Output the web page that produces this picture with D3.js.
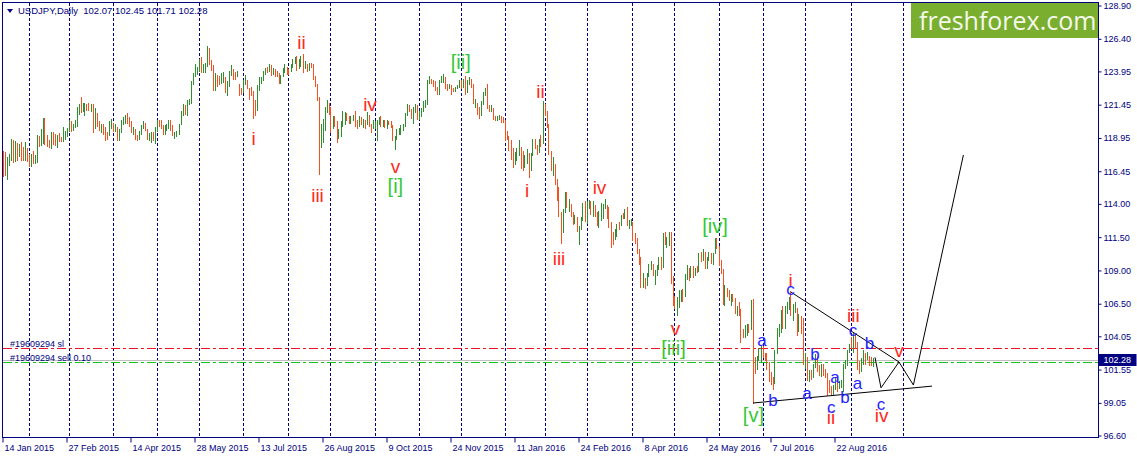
<!DOCTYPE html>
<html>
<head>
<meta charset="utf-8">
<script src="https://cdn.jsdelivr.net/npm/d3@7"></script>
<style>
  html, body { margin: 0; padding: 0; background: #fff; }
  svg { display: block; font-family: "Liberation Sans", Arial, sans-serif; }
</style>
</head>
<body>
<div id="chart"></div>
<script>
// USDJPY daily bars, Jan 2015 - Sep 2016, with Elliott wave marks and a triangle forecast.
// Each bar is [high, low, close]; the open is the previous close.

const symbol = 'USDJPY';
const period = 'Daily';
const firstOpen = 117.60;

const jan15 = [[117.97,116.00,116.40],[117.87,116.10,116.20],[117.50,115.80,117.40],[117.74,116.84,117.60],[118.87,117.20,118.70],[118.80,117.10,118.40],[118.72,117.17,118.60],[118.60,117.24,117.70],[118.50,117.54,118.30],[118.64,117.22,117.90],[118.24,117.22,117.50],[118.67,117.22,118.40],[118.19,117.17,117.50]];
const feb15 = [[117.74,116.79,117.40],[117.74,116.79,117.50],[117.97,116.97,117.20],[117.67,116.97,117.50],[119.17,117.09,119.00],[119.10,118.24,118.60],[119.62,118.34,119.40],[120.45,118.49,120.20],[120.42,118.42,119.30],[119.17,118.29,118.80],[118.80,118.17,118.50],[119.40,118.12,119.30],[119.42,118.42,119.00],[119.25,118.34,118.90],[119.17,118.19,119.10],[119.35,118.67,118.80],[119.05,118.62,118.70],[119.80,118.67,119.30],[119.45,118.80,119.45],[119.67,119.05,119.60]];
const mar15 = [[120.30,119.40,120.20],[120.20,119.40,119.70],[120.00,119.50,119.80],[120.30,119.70,120.10],[121.30,119.80,120.80],[121.50,120.70,121.10],[122.03,120.80,121.05],[121.60,120.90,121.40],[121.60,120.60,121.45],[121.50,121.00,121.40],[121.60,121.00,121.30],[121.50,120.90,121.40],[121.50,119.30,119.80],[121.20,119.60,120.70],[120.80,119.80,120.00],[120.20,119.50,119.70],[120.00,119.30,119.75],[120.00,119.20,119.60],[119.80,118.70,119.30],[119.40,118.80,119.20],[120.20,119.10,120.00],[120.40,119.60,120.10]];
const apr15 = [[120.10,119.40,119.70],[120.00,119.40,119.80],[119.80,118.70,118.90],[119.60,118.70,119.40],[120.30,119.30,120.20],[120.50,119.90,120.25],[120.70,120.00,120.60],[120.80,120.00,120.20],[120.50,119.80,120.10],[120.20,119.30,119.50],[119.80,119.20,119.60],[119.60,118.80,118.90],[119.20,118.70,118.85],[119.50,118.80,119.30],[119.90,119.20,119.70],[120.20,119.60,120.20],[120.10,119.50,119.60],[119.60,118.80,118.90],[119.30,118.70,119.00],[119.40,118.60,119.05],[119.40,118.70,118.90],[119.80,118.50,119.40]];
const may15 = [[120.30,119.40,120.20],[120.30,119.80,120.10],[120.30,119.60,119.80],[119.90,119.20,119.40],[119.90,119.20,119.80],[120.00,119.50,119.85],[120.30,119.60,120.10],[120.30,119.50,119.80],[119.90,119.10,119.20],[119.40,118.90,119.30],[119.50,119.00,119.40],[120.00,119.20,120.00],[121.00,119.90,120.90],[121.50,120.60,121.30],[121.40,120.70,121.00],[121.80,120.60,121.50],[121.90,121.40,121.80],[123.20,121.50,123.00],[123.80,122.90,123.60],[124.50,123.50,124.10],[124.30,123.70,124.10]];
const jun15 = [[124.90,123.90,124.80],[125.00,123.80,124.00],[124.50,123.80,124.30],[124.60,123.80,124.50],[125.86,124.30,125.60],[125.70,124.40,124.60],[124.80,124.00,124.30],[124.40,122.45,122.50],[123.80,122.50,123.40],[123.70,122.80,123.35],[123.60,122.90,123.30],[123.80,123.00,123.40],[123.90,123.10,123.45],[123.50,122.30,122.70],[123.20,122.10,122.75],[124.00,122.80,123.90],[124.40,123.60,123.95],[124.10,123.30,123.75],[123.90,123.30,123.70],[124.00,123.50,123.80],[123.00,122.10,122.50],[122.70,122.20,122.40]];
const jul15 = [[123.30,122.30,123.10],[123.70,122.90,123.20],[123.30,122.60,122.80],[122.70,121.80,122.60],[122.80,122.10,122.50],[122.50,120.41,121.60],[121.80,120.60,121.00],[122.90,121.00,122.80],[123.50,122.50,123.30],[123.50,123.00,123.40],[124.00,123.20,123.90],[124.20,123.70,124.10],[124.30,123.80,124.00],[124.50,123.90,124.30],[124.40,123.60,123.90],[124.20,123.70,124.00],[124.10,123.50,123.80],[124.00,123.50,123.75],[123.80,123.00,123.20],[123.70,123.00,123.60],[124.20,123.50,123.90],[124.50,123.80,124.10],[124.30,123.70,124.00]];
const aug15 = [[124.10,123.70,123.90],[124.50,123.90,124.40],[124.90,124.20,124.80],[125.00,124.50,124.85],[125.10,124.00,124.20],[124.90,124.10,124.60],[125.10,124.30,125.00],[125.28,123.80,124.40],[124.70,124.10,124.45],[124.50,123.90,124.30],[124.60,124.00,124.40],[124.60,124.20,124.35],[124.50,123.30,123.40],[123.60,122.80,122.90],[123.00,121.70,122.00],[122.00,116.15,118.40],[120.00,118.20,118.80],[120.40,118.60,119.90],[121.30,119.50,121.00],[121.80,120.80,121.70],[121.60,120.70,121.20]];
const sep15 = [[121.30,119.30,119.80],[120.60,119.60,120.20],[120.60,119.80,120.00],[120.20,118.60,119.00],[119.60,118.90,119.20],[120.20,119.00,120.00],[121.00,119.80,120.50],[120.90,119.90,120.60],[120.80,120.20,120.55],[120.60,120.00,120.20],[120.60,120.00,120.40],[120.70,120.20,120.60],[121.00,119.80,120.00],[120.30,119.60,119.90],[120.60,119.80,120.50],[120.50,119.90,120.10],[120.40,119.70,120.20],[120.30,119.60,120.00],[120.90,119.90,120.60],[120.70,119.80,119.90],[120.00,119.30,119.80],[120.30,119.60,119.90]];
const oct15 = [[120.20,119.60,120.00],[120.30,118.70,120.20],[120.50,119.90,120.40],[120.60,119.80,120.10],[120.30,119.80,120.20],[120.30,119.70,119.90],[120.30,119.60,120.20],[120.20,119.90,120.10],[120.20,119.70,119.80],[119.90,118.70,118.80],[119.10,118.07,118.90],[119.60,118.80,119.40],[119.70,119.20,119.45],[119.90,119.20,119.80],[120.00,119.50,119.90],[120.80,119.80,120.60],[121.50,120.60,121.45],[121.40,120.90,121.10],[121.10,120.40,120.60],[121.30,120.00,121.10],[121.50,120.80,121.15],[121.40,120.30,120.60]];
const nov15 = [[121.00,120.30,120.70],[121.20,120.50,121.00],[121.70,120.90,121.60],[121.80,121.20,121.70],[123.30,121.40,123.20],[123.60,123.00,123.25],[123.40,123.00,123.20],[123.30,122.80,123.00],[123.20,122.50,122.60],[122.80,122.20,122.55],[123.30,122.20,123.20],[123.60,123.10,123.40],[123.75,123.10,123.45],[123.50,122.60,122.90],[123.00,122.50,122.80],[123.00,122.60,122.85],[122.90,122.20,122.50],[122.70,122.40,122.45],[122.80,122.40,122.70],[122.90,122.60,122.80],[123.30,122.70,123.20]];
const dec15 = [[123.30,122.60,122.90],[123.40,122.70,123.20],[123.60,122.20,122.60],[123.30,122.30,123.10],[123.50,122.90,123.30],[123.40,122.70,123.00],[123.00,121.50,121.60],[121.90,121.20,121.65],[121.60,120.70,120.90],[121.30,120.40,120.60],[121.70,120.60,121.60],[122.40,121.40,122.20],[122.70,122.10,122.60],[123.00,121.10,121.20],[121.40,120.90,121.10],[121.40,120.90,121.15],[121.20,120.30,120.40],[120.60,120.20,120.30],[120.60,120.20,120.40],[120.70,120.30,120.50],[120.60,120.10,120.30],[120.50,120.10,120.20]];
const jan16 = [[120.30,118.70,119.30],[119.50,118.80,119.00],[119.10,118.00,118.50],[118.80,117.30,117.70],[118.20,116.70,117.20],[117.90,116.90,117.70],[118.20,117.20,117.75],[118.80,117.60,118.10],[118.30,116.60,118.00],[118.00,116.50,117.00],[117.70,116.70,117.30],[118.10,117.00,117.70],[117.80,115.97,116.90],[117.80,116.50,117.60],[118.90,117.60,118.80],[118.90,118.10,118.30],[118.40,117.70,118.20],[118.90,117.80,118.70],[119.20,118.30,118.60],[121.69,118.50,121.10]];
const feb16 = [[121.50,120.60,121.00],[121.00,119.70,119.90],[120.00,117.70,117.90],[118.00,116.50,116.80],[117.50,116.10,116.85],[117.00,115.40,115.60],[115.90,114.20,114.90],[115.30,113.00,113.30],[113.40,110.98,112.40],[113.60,111.80,113.20],[114.90,113.30,114.60],[114.90,113.70,114.00],[114.40,113.40,114.05],[114.00,113.00,113.20],[113.40,112.40,112.60],[113.20,112.50,112.90],[113.00,111.90,112.10],[112.30,110.90,112.20],[113.00,112.00,112.90],[114.10,112.70,114.00],[114.20,112.60,112.70]];
const mar16 = [[114.20,112.50,114.00],[114.30,113.60,114.05],[114.20,113.20,113.70],[114.20,113.00,113.80],[113.90,113.00,113.40],[113.40,112.30,112.60],[113.50,112.20,113.30],[114.10,112.70,113.35],[114.00,112.90,113.80],[114.40,113.60,113.85],[113.90,112.90,113.10],[113.80,112.20,112.40],[112.60,110.67,111.60],[111.90,110.90,111.55],[112.10,111.30,111.90],[112.50,111.50,112.40],[112.60,112.00,112.35],[113.20,112.30,113.10],[113.30,112.90,113.00],[113.60,112.90,113.40],[113.80,112.30,112.40],[112.80,112.10,112.45],[112.90,112.30,112.60]];
const apr16 = [[112.60,111.20,111.70],[111.80,111.00,111.30],[111.40,110.20,110.40],[110.60,109.40,109.80],[110.00,107.70,108.10],[108.80,107.70,108.15],[108.40,107.63,108.00],[108.80,107.80,108.60],[109.50,108.50,109.30],[109.70,109.00,109.40],[109.50,108.60,108.80],[109.00,107.90,108.85],[109.40,108.60,109.30],[110.00,109.00,109.80],[110.00,109.00,109.40],[111.80,109.20,111.75],[111.90,110.90,111.10],[111.50,110.70,111.40],[111.90,110.80,111.45],[111.88,108.00,108.40],[108.60,106.30,106.40]];
const may16 = [[107.10,106.10,106.35],[107.00,105.55,106.50],[107.50,106.20,107.10],[107.50,106.60,107.20],[107.60,106.60,107.10],[108.70,107.00,108.60],[109.40,108.30,109.20],[109.20,108.20,108.40],[109.30,108.40,109.00],[109.30,108.40,108.60],[109.20,108.60,109.10],[109.30,108.80,109.05],[110.30,108.90,110.20],[110.40,109.60,110.00],[110.60,109.70,110.20],[110.40,109.10,109.30],[110.00,109.10,109.80],[110.40,109.70,110.20],[110.30,109.50,109.80],[110.30,109.40,110.20],[111.40,110.20,111.30],[111.45,110.60,110.70]];
const jun16 = [[110.80,109.30,109.50],[109.80,108.70,109.00],[109.10,106.40,106.50],[107.90,106.30,107.60],[107.70,107.00,107.40],[107.50,106.70,106.90],[107.20,106.30,107.00],[107.20,106.60,106.95],[106.90,105.70,106.00],[106.30,105.60,106.10],[106.60,105.60,106.00],[106.10,103.55,104.20],[104.60,103.90,104.10],[104.90,103.90,104.50],[105.00,104.10,104.80],[105.00,104.30,104.70],[106.80,104.50,106.10],[106.84,99.00,102.30],[102.50,101.20,101.90],[102.60,101.50,102.50],[103.20,102.20,102.70],[103.30,102.10,103.20]];
const jul16 = [[103.30,102.40,102.60],[102.80,102.20,102.50],[102.80,101.50,102.00],[102.10,100.60,101.60],[101.40,100.40,100.80],[101.00,99.99,100.60],[103.00,100.50,102.80],[104.70,102.70,104.60],[105.00,104.00,104.70],[106.00,104.30,105.30],[106.30,104.60,104.90],[106.30,104.60,106.20],[106.60,105.70,106.25],[107.00,106.00,106.90],[107.49,105.60,106.00],[106.50,105.20,106.10],[106.60,105.80,106.15],[106.20,104.10,104.80],[105.70,104.40,105.30],[105.60,104.20,105.25],[105.40,101.90,102.10]];
const aug16 = [[102.80,101.60,102.30],[102.50,100.70,100.80],[101.50,100.60,101.30],[101.50,100.80,101.20],[102.00,100.90,101.80],[102.70,101.70,102.50],[102.60,101.40,101.60],[101.90,101.10,101.20],[102.00,101.00,101.90],[102.00,101.10,101.30],[101.60,100.90,101.20],[101.30,99.55,100.30],[100.80,99.80,100.20],[100.30,99.60,99.90],[100.40,99.65,100.20],[100.90,100.00,100.80],[100.90,99.90,100.30],[100.70,100.10,100.50],[100.80,100.20,100.55],[102.00,99.90,101.80],[102.30,101.60,102.00],[103.00,101.80,102.90],[103.50,102.80,103.40]];
const sep16 = [[104.00,103.10,103.30],[104.32,102.80,104.00],[104.20,103.10,103.40],[103.60,101.50,101.80],[102.20,101.20,101.70],[102.40,101.40,102.00],[103.00,101.90,102.70],[102.80,101.90,102.50],[102.90,102.30,102.60],[102.60,101.80,102.10],[102.50,101.80,102.07],[102.45,101.71,102.28]];

// days without a bar on this feed
const holidays = ['2015-12-25', '2016-01-01'];

// price axis ticks as the terminal prints them
const priceTicks = [128.90, 126.40, 123.95, 121.45, 118.95, 116.45, 114.00, 111.50, 109.00, 106.50, 104.05, 101.55, 99.05, 96.60];
const labelEvery = 32;       // one date label every 32 bars
const futureGridBars = [450];

// order levels
const slPrice = 103.15;
const sellPrice = 102.10;

// wave marks: [text, bar index, price at baseline]
const wavesRed = [['i',125.25,118.42],['ii',149.25,125.63],['iii',157.25,114.16],['iv',183.5,120.97],['v',196.2,116.34],
  ['i',262,114.53],['ii',268.75,121.93],['iii',278,109.38],['iv',298.25,114.72],['v',336.2,104.14],
  ['i',393.75,107.77],['ii',414,97.44],['iii',425.2,105.10],['iv',439.35,97.63],['v',448,102.51]];
const wavesGreen = [['[i]',196.2,114.81],['[ii]',228.9,124.13],['[iii]',335.25,102.68],['[iv]',356,111.81],['[v]',375.2,97.61]];
const wavesBlue = [['a',379.5,103.32],['b',385,98.83],['c',393.75,107.15],['a',402,99.34],['b',406,102.27],['c',414.15,98.31],
  ['a',416,100.56],['b',421,99.01],['c',425,104.09],['a',427.25,100.07],['b',433.25,103.07],['c',439,98.51]];

// triangle and forecast: [bar index, price]
const upperTrend = [[394,107.37],[448,102.12]];
const lowerTrend = [[375,99.04],[464.5,100.31]];
const forecastPath = [[436,102.47],[439,100.18],[448,102.12],[455.2,100.39],[480.2,117.67]];

// ---------------------------------------------------------------

const W = 1137, H = 459;
const NAVY = '#000080';
const plot = { left: 2.5, right: 1098.5, top: 2.5, bottom: 437.5 };

const raw = [].concat(jan15, feb15, mar15, apr15, may15, jun15, jul15, aug15, sep15, oct15, nov15, dec15,
  jan16, feb16, mar16, apr16, may16, jun16, jul16, aug16, sep16);
const bars = raw.map(([h, l, c], i) => ({ i, h, l, c, o: i === 0 ? firstOpen : raw[i - 1][2] }));

// trading days from 14 Jan 2015
const keyFmt = d3.timeFormat('%Y-%m-%d');
const dates = [];
for (let d = new Date(2015, 0, 14); dates.length < bars.length; d.setDate(d.getDate() + 1)) {
  const wd = d.getDay();
  if (wd !== 0 && wd !== 6 && !holidays.includes(keyFmt(d))) dates.push(new Date(d));
}

const x = d3.scaleLinear().domain([0, 100]).range([3, 203]);
const y = d3.scaleLinear().domain([96.60, 128.90]).range([435.5, 5.5]);
const px = (i) => Math.floor(x(i)) + 0.5;
const py = (p) => Math.round(y(p)) + 0.5;

const svg = d3.select('#chart').append('svg').attr('width', W).attr('height', H);
svg.append('rect').attr('width', W).attr('height', H).attr('fill', '#fff');

// monthly grid
const gridIdx = dates.map((d, i) => (i > 0 && d.getMonth() !== dates[i - 1].getMonth()) ? i : null)
  .filter((v) => v !== null).concat(futureGridBars);
svg.append('g').selectAll('line').data(gridIdx).join('line')
  .attr('x1', px).attr('x2', px).attr('y1', plot.top).attr('y2', plot.bottom)
  .attr('stroke', NAVY).attr('stroke-dasharray', '3,2').attr('shape-rendering', 'crispEdges');

// levels: bid, sl, sell
const last = bars[bars.length - 1];
const levels = [
  { p: last.c, color: '#c0c0c0', dash: null },
  { p: slPrice, color: '#f0102a', dash: '9,3,3,3' },
  { p: sellPrice, color: '#18c418', dash: '9,3,3,3' }
];
svg.append('g').selectAll('line').data(levels).join('line')
  .attr('x1', plot.left).attr('x2', plot.right)
  .attr('y1', (d) => py(d.p)).attr('y2', (d) => py(d.p))
  .attr('stroke', (d) => d.color).attr('stroke-dasharray', (d) => d.dash)
  .attr('shape-rendering', 'crispEdges');

const orderLabels = [['#19609294 sl', slPrice], ['#19609294 sell 0.10', sellPrice]];
svg.append('g').selectAll('text').data(orderLabels).join('text')
  .attr('x', 10).attr('y', (d) => py(d[1]) - 2)
  .attr('fill', NAVY).style('font-size', '9px').text((d) => d[0]);

// bars
svg.append('g').selectAll('line').data(bars).join('line')
  .attr('x1', (d) => px(d.i)).attr('x2', (d) => px(d.i))
  .attr('y1', (d) => Math.round(y(d.h))).attr('y2', (d) => Math.max(Math.round(y(d.l)), Math.round(y(d.h)) + 1))
  .attr('stroke', (d) => d.c >= d.o ? '#2f8f2f' : '#f4511e')
  .attr('shape-rendering', 'crispEdges');

// triangle + forecast
const line = d3.line().x((d) => x(d[0])).y((d) => y(d[1]));
svg.append('g').selectAll('path').data([upperTrend, lowerTrend, forecastPath]).join('path')
  .attr('d', line).attr('fill', 'none').attr('stroke', '#000').attr('stroke-width', 1);

// wave marks
function marks(list, color, size) {
  svg.append('g').selectAll('text').data(list).join('text')
    .attr('x', (d) => x(d[1])).attr('y', (d) => y(d[2]))
    .attr('text-anchor', 'middle').attr('fill', color)
    .style('font-size', size + 'px').text((d) => d[0]);
}
marks(wavesRed, '#ff2a1a', 19);
marks(wavesGreen, '#32c832', 20);
marks(wavesBlue, '#2424ff', 17);

// logo
svg.append('rect').attr('x', 911).attr('y', 3).attr('width', 187).attr('height', 35).attr('fill', '#7aae2e');
svg.append('text').attr('x', 919).attr('y', 29.5).attr('fill', '#f4f8ec')
  .style('font-family', '"Open Sans", sans-serif').style('font-size', '25px').text('freshforex.com');

// frame
svg.append('path')
  .attr('d', `M${plot.left},${plot.bottom}V${plot.top}H${plot.right}V${plot.bottom}H${plot.left}`)
  .attr('fill', 'none').attr('stroke', NAVY).attr('shape-rendering', 'crispEdges');

// price axis
const yAxis = d3.axisRight(y).tickValues(priceTicks).tickSize(3).tickPadding(2).tickFormat(d3.format('.2f'));
svg.append('g').attr('transform', `translate(${plot.right},0)`).call(yAxis)
  .call((g) => g.select('.domain').remove())
  .call((g) => g.selectAll('line').attr('stroke', NAVY))
  .call((g) => g.selectAll('text').attr('fill', NAVY).style('font-size', '9px').style('font-family', '"Liberation Sans", Arial, sans-serif'));

// bid tag
const bidY = y(last.c);
svg.append('rect').attr('x', plot.right).attr('y', Math.round(bidY) - 6).attr('width', 38).attr('height', 12).attr('fill', '#000080');
svg.append('text').attr('x', plot.right + 5).attr('y', bidY).attr('dy', '0.34em')
  .attr('fill', '#fff').style('font-size', '9px').text(d3.format('.2f')(last.c));

// time axis
const fmtDate = d3.timeFormat('%-d %b %Y');
const labelIdx = d3.range(0, bars.length, labelEvery);
const xAxis = d3.axisBottom(x).tickValues(labelIdx).tickSize(5).tickPadding(2).tickFormat((i) => fmtDate(dates[i]));
svg.append('g').attr('transform', `translate(-0.5,${plot.bottom})`).call(xAxis)
  .call((g) => g.select('.domain').remove())
  .call((g) => g.selectAll('line').attr('stroke', NAVY))
  .call((g) => g.selectAll('text').attr('fill', NAVY).attr('text-anchor', 'start').attr('x', 1.5)
    .style('font-size', '9px').style('font-family', '"Liberation Sans", Arial, sans-serif'));

// header
svg.append('path').attr('d', 'M7,9H13L10,13Z').attr('fill', NAVY);
svg.append('text').attr('x', 18).attr('y', 14).attr('fill', NAVY).style('font-size', '9.5px')
  .attr('xml:space', 'preserve')
  .text(`${symbol},${period}  ${[last.o, last.h, last.l, last.c].map(d3.format('.2f')).join(' ')}`);
</script>
</body>
</html>
